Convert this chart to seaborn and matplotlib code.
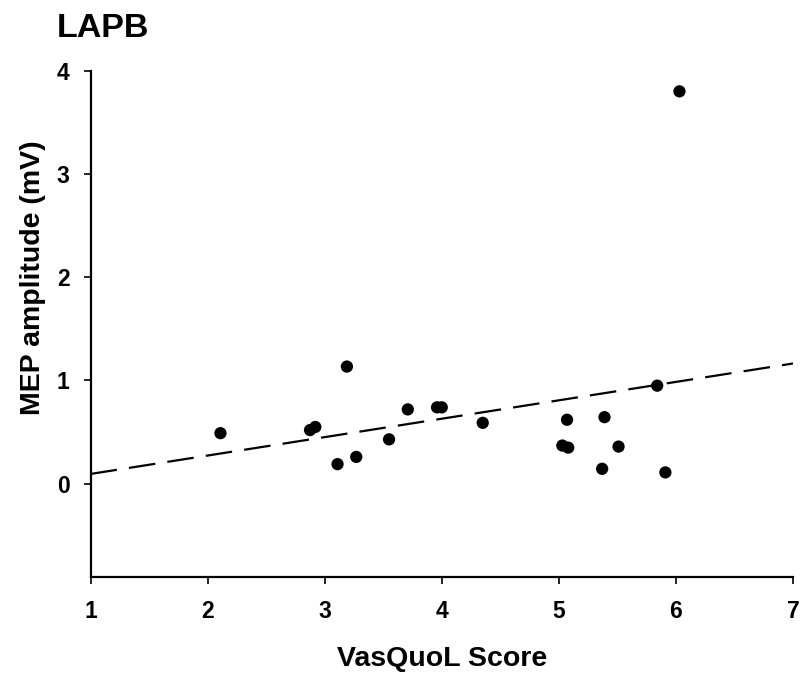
import matplotlib
matplotlib.use("Agg")
import matplotlib.pyplot as plt
import seaborn as sns
import pandas as pd

# Data
vasquol_score = [2.11, 2.875, 2.92, 3.11, 3.19, 3.27, 3.55, 3.71, 3.96, 4.00,
                 4.35, 5.03, 5.07, 5.08, 5.37, 5.39, 5.51, 5.84, 5.91, 6.03]
mep_amplitude = [0.49, 0.52, 0.55, 0.19, 1.135, 0.26, 0.43, 0.72, 0.74, 0.74,
                 0.59, 0.37, 0.62, 0.35, 0.145, 0.645, 0.36, 0.95, 0.11, 3.80]
x_ticks = [1, 2, 3, 4, 5, 6, 7]
y_ticks = [0, 1, 2, 3, 4]

df = pd.DataFrame({"VasQuoL Score": vasquol_score, "MEP amplitude (mV)": mep_amplitude})

sns.set_style("ticks")
plt.rcParams['font.family'] = ['Liberation Sans', 'DejaVu Sans']

fig = plt.figure(figsize=(8.06, 6.86), dpi=100)
ax = fig.add_axes([90.5 / 806, 1 - 576.7 / 686, 702.5 / 806, 506 / 686])
ax.set_xlim(1, 7)
ax.set_ylim(-0.9, 4)

sns.regplot(data=df, x="VasQuoL Score", y="MEP amplitude (mV)", ax=ax,
            ci=None, truncate=False,
            scatter_kws=dict(s=78, color="black", edgecolor="none", alpha=1, zorder=3),
            line_kws=dict(color="black", lw=1.6, dashes=(12, 5.5), zorder=2))

ax.set_xlim(1, 7)
ax.set_ylim(-0.9, 4)
ax.set_xticks(x_ticks)
ax.set_yticks(y_ticks)
ax.set_xticklabels([str(t) for t in x_ticks])
ax.set_yticklabels([str(t) for t in y_ticks])

for s in ["top", "right"]:
    ax.spines[s].set_visible(False)
for s in ["left", "bottom"]:
    ax.spines[s].set_linewidth(1.6)
    ax.spines[s].set_color("black")

ax.tick_params(axis="both", direction="out", length=5, width=1.2, color="black",
               labelsize=16.5, labelcolor="black")
ax.tick_params(axis="x", pad=12)
ax.tick_params(axis="y", pad=10)
for lab in ax.get_xticklabels() + ax.get_yticklabels():
    lab.set_fontweight("bold")

ax.set_xlabel("VasQuoL Score", fontsize=20.5, fontweight="bold", color="black")
ax.set_ylabel("MEP amplitude (mV)", fontsize=20.5, fontweight="bold", color="black")
ax.xaxis.set_label_coords(0.5, -0.137)
ax.yaxis.set_label_coords(-0.063, 0.59)

fig.text(57 / 806, 1 - 37 / 686, "LAPB", fontsize=24.5, fontweight="bold",
         ha="left", va="baseline", color="black")

fig.savefig("out.png", dpi=100, facecolor="white")
